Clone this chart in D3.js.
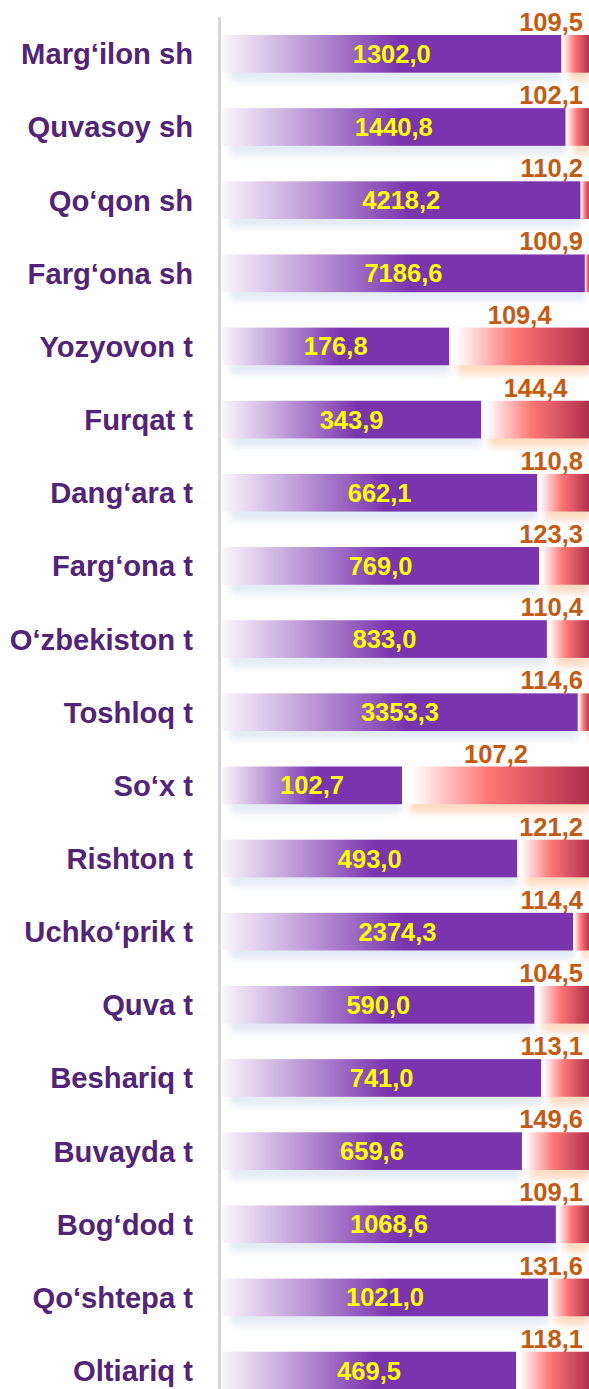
<!DOCTYPE html>
<html><head><meta charset="utf-8">
<script src="https://cdn.jsdelivr.net/npm/d3@7"></script>
<style>html,body{margin:0;padding:0;background:#fff;overflow:hidden}svg{display:block}</style>
</head><body>
<script>
const categories = ["Marg‘ilon sh","Quvasoy sh","Qo‘qon sh","Farg‘ona sh","Yozyovon t","Furqat t","Dang‘ara t","Farg‘ona t","O‘zbekiston t","Toshloq t","So‘x t","Rishton t","Uchko‘prik t","Quva t","Beshariq t","Buvayda t","Bog‘dod t","Qo‘shtepa t","Oltiariq t"];
const values = [1302.0,1440.8,4218.2,7186.6,176.8,343.9,662.1,769.0,833.0,3353.3,102.7,493.0,2374.3,590.0,741.0,659.6,1068.6,1021.0,469.5];
const growth = [109.5,102.1,110.2,100.9,109.4,144.4,110.8,123.3,110.4,114.6,107.2,121.2,114.4,104.5,113.1,149.6,109.1,131.6,118.1];

const W = 589, H = 1389;
const loc = d3.formatLocale({decimal: ",", thousands: " ", grouping: [3], currency: ["", ""]});
const fmt = loc.format(".1f");

const rows = categories.map((c, i) => {
  const tot = values[i] + growth[i];
  return {c, v: values[i], g: growth[i], p0: values[i] / tot};
});

const svg = d3.select("body").append("svg").attr("width", W).attr("height", H);
const defs = svg.append("defs");

const x = d3.scaleLinear().domain([0, 1]).range([222, 590]);
const y = d3.scaleBand().domain(categories).range([35, 1389.4]).paddingInner(0.485).paddingOuter(0).align(0);

// gradients
const gp = defs.append("linearGradient").attr("id", "gp").attr("x1", 0).attr("x2", 1).attr("y1", 0).attr("y2", 0);
gp.append("stop").attr("offset", 0).attr("stop-color", "#faf6fc");
gp.append("stop").attr("offset", 0.52).attr("stop-color", "#7a34ae");
gp.append("stop").attr("offset", 1).attr("stop-color", "#7a34ae");

const gr = defs.append("linearGradient").attr("id", "gr").attr("x1", 0).attr("x2", 1).attr("y1", 0).attr("y2", 0);
gr.append("stop").attr("offset", 0).attr("stop-color", "#ffffff");
gr.append("stop").attr("offset", 0.05).attr("stop-color", "#ffffff");
gr.append("stop").attr("offset", 0.46).attr("stop-color", "#ff7676");
gr.append("stop").attr("offset", 1).attr("stop-color", "#ad2e4c");

const blur = defs.append("filter").attr("id", "blur").attr("x", "-10%").attr("y", "-50%").attr("width", "120%").attr("height", "200%");
blur.append("feGaussianBlur").attr("stdDeviation", 3.5);

const bw = y.bandwidth();

// shadows
const sh = svg.append("g");
sh.selectAll("rect.sp").data(rows).join("rect")
  .attr("x", x(0) + 8).attr("y", d => y(d.c) + 9)
  .attr("width", d => x(d.p0) - x(0) - 8).attr("height", bw)
  .attr("fill", "#e4ebf4").attr("filter", "url(#blur)");
sh.selectAll("rect.sr").data(rows).join("rect")
  .attr("x", d => x(d.p0) + 8).attr("y", d => y(d.c) + 9)
  .attr("width", d => Math.max(0, x(1) - x(d.p0) - 8)).attr("height", bw)
  .attr("fill", "#fcdcc2").attr("filter", "url(#blur)");

// axis line
svg.append("line").attr("x1", 219.5).attr("x2", 219.5).attr("y1", 17).attr("y2", H)
  .attr("stroke", "#d6d6d6").attr("stroke-width", 3);

// bars
const bars = svg.append("g");
bars.selectAll("rect.p").data(rows).join("rect")
  .attr("x", x(0)).attr("y", d => y(d.c))
  .attr("width", d => x(d.p0) - x(0)).attr("height", bw)
  .attr("fill", "url(#gp)");
bars.selectAll("rect.r").data(rows).join("rect")
  .attr("x", d => x(d.p0)).attr("y", d => y(d.c))
  .attr("width", d => x(1) - x(d.p0)).attr("height", bw)
  .attr("fill", "url(#gr)");

const font = "'Liberation Sans', Arial, sans-serif";

// category labels
svg.append("g").selectAll("text").data(rows).join("text")
  .attr("x", 193).attr("y", d => y(d.c) + bw / 2 + 10.5)
  .attr("text-anchor", "end").attr("font-family", font).attr("font-weight", "bold")
  .attr("font-size", 29.2).attr("fill", "#512479").text(d => d.c);

// value labels
svg.append("g").selectAll("text").data(rows).join("text")
  .attr("x", d => (x(0) + x(d.p0)) / 2).attr("y", d => y(d.c) + bw / 2 + 9)
  .attr("text-anchor", "middle").attr("font-family", font).attr("font-weight", "bold")
  .attr("font-size", 25.5).attr("fill", "#ffff00").text(d => fmt(d.v));

// growth labels
svg.append("g").selectAll("text").data(rows).join("text")
  .attr("text-anchor", "middle").attr("font-family", font).attr("font-weight", "bold")
  .attr("font-size", 25.5).attr("fill", "#c55a11").text(d => fmt(d.g))
  .attr("y", d => y(d.c) - 4)
  .each(function(d) {
    const w = this.getComputedTextLength();
    const cx = Math.min((x(d.p0) + x(1)) / 2, 583 - w / 2);
    d3.select(this).attr("x", cx);
  });
</script>
</body></html>
